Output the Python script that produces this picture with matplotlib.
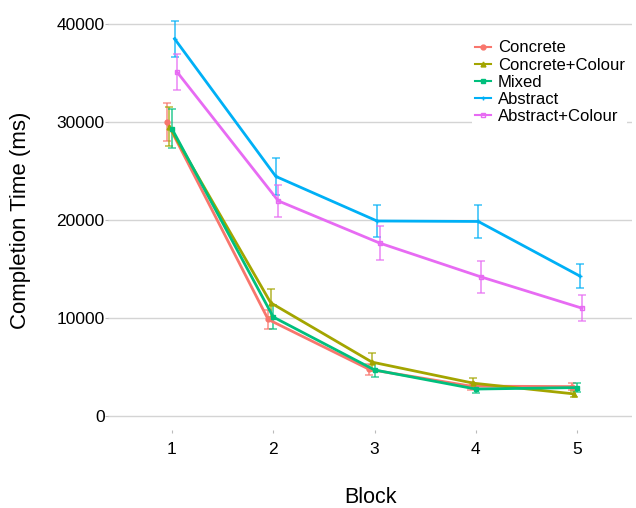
import matplotlib
matplotlib.use("Agg")
import matplotlib.pyplot as plt
import numpy as np

plt.rcParams['font.family'] = ['Liberation Sans', 'DejaVu Sans']

blocks = [1, 2, 3, 4, 5]
series = ["Concrete", "Concrete+Colour", "Mixed", "Abstract", "Abstract+Colour"]
concrete = [30000, 9850, 4750, 3050, 3000]
concrete_colour = [29500, 11550, 5500, 3350, 2250]
mixed = [29300, 10100, 4700, 2750, 2900]
abstract = [38500, 24450, 19900, 19850, 14300]
abstract_colour = [35100, 21950, 17650, 14200, 11000]

concrete_err = [1900, 1000, 600, 400, 350]
concrete_colour_err = [2000, 1450, 900, 500, 300]
mixed_err = [2000, 1200, 700, 450, 450]
abstract_err = [1850, 1850, 1650, 1650, 1250]
abstract_colour_err = [1800, 1650, 1750, 1600, 1350]

values = [concrete, concrete_colour, mixed, abstract, abstract_colour]
errors = [concrete_err, concrete_colour_err, mixed_err, abstract_err, abstract_colour_err]
colors = ["#F8766D", "#A3A500", "#00BF7D", "#00B0F6", "#E76BF3"]
markers = ["o", "^", "s", "+", "s"]

W, H = 636, 508
fig = plt.figure(figsize=(W / 100, H / 100), dpi=100)
ax = fig.add_axes([108 / W, (H - 430) / H, 524 / W, 420 / H])

ppu = 392 / 40000
ax.set_ylim(-14 / ppu, 40000 + 14 / ppu)
xppu = 101.25
ax.set_xlim(1 - 64 / xppu, 5 + 55 / xppu)

offsets = [-0.05, -0.025, 0.0, 0.025, 0.05]
x = np.array(blocks, dtype=float)
for name, v, e, c, m, off in zip(series, values, errors, colors, markers, offsets):
    xs = x + off
    ax.errorbar(xs, v, yerr=e, fmt='none', ecolor=c, elinewidth=1.3,
                capsize=3, capthick=1.2, alpha=0.7, zorder=2)
    mfc = 'none' if name == "Abstract+Colour" else c
    ax.plot(xs, v, color=c, lw=2.0, marker=m, markersize=3.5,
            mfc=mfc, mec=c, mew=1.0, label=name, zorder=3)

ax.set_yticks([0, 10000, 20000, 30000, 40000])
ax.set_yticklabels(["0", "10000", "20000", "30000", "40000"])
ax.set_xticks(blocks)
ax.set_xticklabels([str(b) for b in blocks])
ax.yaxis.grid(True, color="#d4d4d4", lw=1.0)
ax.set_axisbelow(True)
for s in ax.spines.values():
    s.set_visible(False)
ax.tick_params(axis='y', length=2, width=0.8, color="#bbbbbb", pad=0.5,
               labelsize=12.5, labelcolor="black")
ax.tick_params(axis='x', length=2, width=0.8, color="#bbbbbb", pad=7,
               labelsize=12.5, labelcolor="black")
ax.set_xlabel("Block", fontsize=15.5, labelpad=21)
ax.set_ylabel("Completion Time (ms)", fontsize=16, labelpad=18)

leg = ax.legend(loc="upper left", bbox_to_anchor=((472 - 108) / 524, (430 - 38) / 420),
                frameon=True, facecolor="white", edgecolor="none", framealpha=1,
                fontsize=12, handlelength=1.0, handletextpad=0.4,
                labelspacing=0.13, borderpad=0.15, borderaxespad=0)
for h in leg.legend_handles:
    h.set_linewidth(1.5)

fig.savefig("out.png", dpi=100)
